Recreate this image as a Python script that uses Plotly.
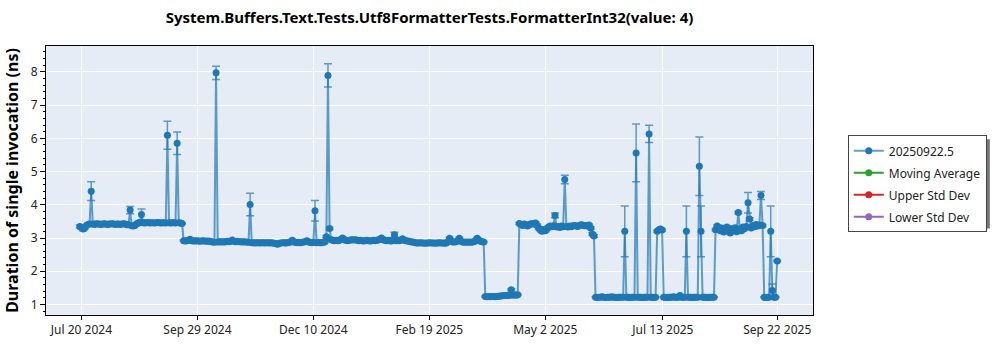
import pandas as pd
import plotly.graph_objects as go

# Daily benchmark results, one run per day starting 2024-07-19
first_day = "2024-07-19"

duration_ns = [
    # 2024-07-19 .. 2024-09-20
    3.35, 3.32, 3.27, 3.30, 3.38, 3.41, 3.42, 4.41,
    3.42, 3.41, 3.43, 3.42, 3.42, 3.41, 3.42, 3.43, 3.42, 3.41, 3.42, 3.42,
    3.43, 3.42, 3.41, 3.42, 3.42, 3.41, 3.42, 3.43, 3.42, 3.40,
    3.40, 3.84, 3.37, 3.36, 3.38, 3.43, 3.45, 3.46, 3.71,
    3.46, 3.45, 3.46, 3.47, 3.45, 3.46, 3.46, 3.45, 3.46, 3.47, 3.46, 3.45, 3.46, 3.46, 3.45,
    6.09, 3.46, 3.45, 3.46, 3.46, 3.45, 5.85, 3.46, 3.45, 3.44,
    # 2024-09-21 .. 2024-12-18
    2.92, 2.91, 2.92, 2.93, 2.96,
    2.92, 2.91, 2.91, 2.92, 2.91, 2.90, 2.91, 2.92, 2.91, 2.90, 2.91, 2.90, 2.89, 2.88, 2.87,
    7.97, 2.88, 2.89, 2.88, 2.89, 2.88, 2.89, 2.90, 2.89, 2.90, 2.94,
    2.90, 2.89, 2.90, 2.89, 2.89, 2.88, 2.89, 2.88, 2.88, 2.87, 4.01,
    2.86, 2.86, 2.85, 2.86, 2.86, 2.85, 2.86, 2.86, 2.85, 2.86, 2.86, 2.85, 2.86, 2.85, 2.84, 2.83,
    2.81, 2.84, 2.85, 2.86, 2.86, 2.85, 2.86, 2.87, 2.88, 2.93,
    2.88, 2.87, 2.86, 2.87, 2.86, 2.87, 2.88, 2.89, 2.92,
    2.88, 2.87, 2.86, 2.87, 3.82, 2.86, 2.87, 2.86, 2.86, 2.87, 2.88, 3.04,
    # 2024-12-19 .. 2025-03-25
    7.89, 3.29, 2.95, 2.93, 2.92, 2.93, 2.92, 2.93, 2.95, 3.00,
    2.95, 2.93, 2.92, 2.93, 2.94, 2.95, 2.94, 2.95, 2.93, 2.92, 2.93, 2.92,
    2.91, 2.92, 2.93, 2.92, 2.91, 2.92, 2.93, 2.92, 2.93, 2.94, 2.96, 3.00,
    2.95, 2.93, 2.92, 2.93, 2.92, 2.91, 2.93, 3.10, 2.92, 2.93, 2.92, 2.94, 2.98,
    2.93, 2.92, 2.91, 2.90, 2.89, 2.88, 2.87, 2.86,
    2.85, 2.85, 2.86, 2.85, 2.85, 2.84, 2.85, 2.85, 2.86, 2.85,
    2.85, 2.84, 2.85, 2.85, 2.86, 2.85, 2.85, 2.84, 2.85,
    2.89, 2.99, 2.90, 2.88, 2.88, 2.89, 2.92, 2.99,
    2.90, 2.88, 2.87, 2.88, 2.87, 2.88, 2.87, 2.88, 2.89, 2.92, 2.99, 2.93, 2.90, 2.89, 2.88,
    # 2025-03-26 .. 2025-04-15
    1.24, 1.23, 1.24, 1.23, 1.24, 1.24, 1.23, 1.24, 1.25, 1.25, 1.26,
    1.26, 1.27, 1.27, 1.27, 1.28, 1.44, 1.28, 1.29, 1.28, 1.29,
    # 2025-04-16 .. 2025-06-01
    3.44, 3.41, 3.38, 3.42, 3.40, 3.36, 3.40, 3.43, 3.42, 3.44, 3.45,
    3.38, 3.30, 3.24, 3.20, 3.26, 3.22, 3.28, 3.33, 3.36, 3.34, 3.37, 3.68,
    3.33, 3.35, 3.32, 3.36, 3.34, 4.76,
    3.35, 3.33, 3.36, 3.34, 3.37, 3.38, 3.36, 3.35, 3.38, 3.40, 3.39, 3.37, 3.38, 3.36, 3.39,
    3.30, 3.12, 3.06,
    # 2025-06-02 .. 2025-07-09
    1.22, 1.21, 1.22, 1.22, 1.23, 1.22, 1.21, 1.22, 1.22, 1.22, 1.23, 1.22, 1.22, 1.21, 1.22, 1.22, 1.22, 1.22,
    3.20, 1.22, 1.22, 1.21, 1.22, 1.22, 1.22, 5.56, 1.22, 1.22, 1.22, 1.21, 1.22, 1.22, 1.22,
    6.13, 1.22, 1.22, 1.21, 1.22,
    # 2025-07-10 .. 2025-07-13
    3.20, 3.25, 3.27, 3.24,
    # 2025-07-14 .. 2025-08-14
    1.22, 1.22, 1.21, 1.22, 1.22, 1.22, 1.23, 1.22, 1.22, 1.22, 1.27, 1.22, 1.22, 1.22,
    3.20, 1.22, 1.22, 1.22, 1.21, 1.22, 1.22, 1.22, 5.16, 3.20,
    1.22, 1.22, 1.22, 1.21, 1.22, 1.22, 1.22, 1.22,
    # 2025-08-15 .. 2025-09-13
    3.25, 3.36, 3.28, 3.22, 3.30, 3.18, 3.26, 3.33, 3.21, 3.15, 3.28, 3.24, 3.31, 3.19,
    3.77, 3.27, 3.22, 3.33, 3.29, 3.35, 4.06, 3.57,
    3.30, 3.38, 3.34, 3.41, 3.36, 3.39, 4.28, 3.38,
    # 2025-09-14 .. 2025-09-22
    1.22, 1.21, 1.22, 1.22, 3.20, 1.42, 1.22, 1.22, 2.31,
]

stddev_ns = [
    0.04, 0.03, 0.05, 0.03, 0.02, 0.02, 0.02, 0.28,
    0.02, 0.02, 0.02, 0.02, 0.02, 0.02, 0.02, 0.02, 0.02, 0.02, 0.02, 0.02,
    0.02, 0.02, 0.02, 0.02, 0.02, 0.02, 0.02, 0.02, 0.02, 0.02,
    0.02, 0.11, 0.03, 0.02, 0.02, 0.02, 0.02, 0.02, 0.16,
    0.02, 0.02, 0.02, 0.02, 0.02, 0.02, 0.02, 0.02, 0.02, 0.02, 0.02, 0.02, 0.02, 0.02, 0.02,
    0.42, 0.02, 0.02, 0.02, 0.02, 0.02, 0.34, 0.02, 0.02, 0.02,
    0.02, 0.02, 0.02, 0.02, 0.03,
    0.02, 0.02, 0.02, 0.02, 0.02, 0.02, 0.02, 0.02, 0.02, 0.02, 0.02, 0.02, 0.02, 0.02, 0.02,
    0.20, 0.02, 0.02, 0.02, 0.02, 0.02, 0.02, 0.02, 0.02, 0.02, 0.03,
    0.02, 0.02, 0.02, 0.02, 0.02, 0.02, 0.02, 0.02, 0.02, 0.02, 0.34,
    0.02, 0.02, 0.02, 0.02, 0.02, 0.02, 0.02, 0.02, 0.02, 0.02, 0.02, 0.02, 0.02, 0.02, 0.02, 0.02,
    0.02, 0.02, 0.02, 0.02, 0.02, 0.02, 0.02, 0.02, 0.02, 0.03,
    0.02, 0.02, 0.02, 0.02, 0.02, 0.02, 0.02, 0.02, 0.03,
    0.02, 0.02, 0.02, 0.02, 0.31, 0.02, 0.02, 0.02, 0.02, 0.02, 0.02, 0.03,
    0.35, 0.03, 0.02, 0.02, 0.02, 0.02, 0.02, 0.02, 0.02, 0.03,
    0.02, 0.02, 0.02, 0.02, 0.02, 0.02, 0.02, 0.02, 0.02, 0.02, 0.02, 0.02,
    0.02, 0.02, 0.02, 0.02, 0.02, 0.02, 0.02, 0.02, 0.02, 0.02, 0.02, 0.03,
    0.02, 0.02, 0.02, 0.02, 0.02, 0.02, 0.02, 0.07, 0.02, 0.02, 0.02, 0.02, 0.03,
    0.02, 0.02, 0.02, 0.02, 0.02, 0.02, 0.02, 0.02,
    0.02, 0.02, 0.02, 0.02, 0.02, 0.02, 0.02, 0.02, 0.02, 0.02,
    0.02, 0.02, 0.02, 0.02, 0.02, 0.02, 0.02, 0.02, 0.02,
    0.02, 0.03, 0.02, 0.02, 0.02, 0.02, 0.02, 0.03,
    0.02, 0.02, 0.02, 0.02, 0.02, 0.02, 0.02, 0.02, 0.02, 0.02, 0.03, 0.02, 0.02, 0.02, 0.02,
    0.02, 0.02, 0.02, 0.02, 0.02, 0.02, 0.02, 0.02, 0.02, 0.02, 0.02,
    0.02, 0.02, 0.02, 0.02, 0.02, 0.03, 0.02, 0.02, 0.02, 0.02,
    0.03, 0.03, 0.04, 0.03, 0.03, 0.04, 0.03, 0.03, 0.03, 0.03, 0.03,
    0.04, 0.04, 0.03, 0.04, 0.03, 0.04, 0.03, 0.03, 0.03, 0.03, 0.03, 0.07,
    0.03, 0.03, 0.03, 0.03, 0.03, 0.13,
    0.03, 0.03, 0.03, 0.03, 0.03, 0.03, 0.03, 0.03, 0.03, 0.03, 0.03, 0.03, 0.03, 0.03, 0.03,
    0.03, 0.04, 0.04,
    0.01, 0.01, 0.01, 0.01, 0.01, 0.01, 0.01, 0.01, 0.01, 0.01, 0.01, 0.01, 0.01, 0.01, 0.01, 0.01, 0.01, 0.01,
    0.76, 0.01, 0.01, 0.01, 0.01, 0.01, 0.01, 0.87, 0.01, 0.01, 0.01, 0.01, 0.01, 0.01, 0.01,
    0.26, 0.01, 0.01, 0.01, 0.01,
    0.03, 0.03, 0.03, 0.03,
    0.01, 0.01, 0.01, 0.01, 0.01, 0.01, 0.01, 0.01, 0.01, 0.01, 0.02, 0.01, 0.01, 0.01,
    0.76, 0.01, 0.01, 0.01, 0.01, 0.01, 0.01, 0.01, 0.88, 0.76,
    0.01, 0.01, 0.01, 0.01, 0.01, 0.01, 0.01, 0.01,
    0.03, 0.03, 0.03, 0.03, 0.03, 0.03, 0.03, 0.03, 0.03, 0.03, 0.03, 0.03, 0.03, 0.03,
    0.03, 0.03, 0.03, 0.03, 0.03, 0.03, 0.31, 0.04,
    0.03, 0.03, 0.03, 0.03, 0.03, 0.03, 0.12, 0.03,
    0.01, 0.01, 0.01, 0.01, 0.76, 0.20, 0.01, 0.01, 0.02,
]

assert len(duration_ns) == len(stddev_ns), (len(duration_ns), len(stddev_ns))

run_dates = pd.date_range(first_day, periods=len(duration_ns), freq="D")

tick_dates = ["2024-07-20", "2024-09-29 12:00", "2024-12-10", "2025-02-19 12:00",
              "2025-05-02", "2025-07-13 12:00", "2025-09-22"]
tick_labels = ["Jul 20 2024", "Sep 29 2024", "Dec 10 2024", "Feb 19 2025",
               "May 2 2025", "Jul 13 2025", "Sep 22 2025"]

series_name = "20250922.5"
overlay_names = ["Moving Average", "Upper Std Dev", "Lower Std Dev"]
overlay_colors = ["rgb(44,160,44)", "rgb(214,39,40)", "rgb(148,103,189)"]
blue = "rgb(31,119,180)"
blue_soft = "rgba(31,119,180,0.7)"

font_family = "Noto Sans, Open Sans, sans-serif"

# Plot area in pixels (for placing the legend frame and its shadow)
PLOT_L, PLOT_R, PLOT_T, PLOT_B = 41, 813, 46, 320


def px_to_paper(px, py):
    return (px - PLOT_L) / (PLOT_R - PLOT_L), (PLOT_B - py) / (PLOT_B - PLOT_T)


fig = go.Figure()
fig.add_trace(go.Scatter(
    x=run_dates, y=duration_ns, name=series_name, mode="lines+markers",
    legendgroup="g0",
    line=dict(color=blue_soft, width=2),
    marker=dict(color=blue, size=7),
    error_y=dict(type="data", array=stddev_ns, visible=True,
                 color=blue_soft, thickness=1.5, width=4),
))
for k, (name, color) in enumerate(zip(overlay_names, overlay_colors), start=1):
    fig.add_trace(go.Scatter(x=[None], y=[None], name=name, mode="lines+markers",
                             legendgroup=f"g{k}",
                             line=dict(color=color, width=2), marker=dict(color=color, size=7)))

# Drop shadow behind the legend frame
sx0, sy0 = px_to_paper(852, 141)
sx1, sy1 = px_to_paper(991, 232)
fig.add_shape(type="rect", xref="paper", yref="paper", x0=sx0, x1=sx1, y0=sy1, y1=sy0,
              fillcolor="#777777", line=dict(width=0), layer="above")

lx, ly = px_to_paper(848, 137)
fig.update_layout(
    width=1000, height=350,
    margin=dict(l=PLOT_L, r=1000 - PLOT_R, t=PLOT_T, b=350 - PLOT_B),
    paper_bgcolor="white", plot_bgcolor="#E5ECF6",
    font=dict(family=font_family, size=12, color="#222"),
    title=dict(text="<b>System.Buffers.Text.Tests.Utf8FormatterTests.FormatterInt32(value: 4)</b>",
               x=0.5, xref="paper", xanchor="center", y=1 - 18 / 350, yanchor="middle",
               font=dict(size=15, color="black")),
    showlegend=True,
    legend=dict(x=lx, y=ly, xanchor="left", yanchor="top",
                bgcolor="white", bordercolor="#444", borderwidth=1,
                tracegroupgap=3, font=dict(size=12, color="#222")),
)
fig.update_xaxes(
    type="date", range=["2024-06-28 03:20", "2025-10-14 01:40"],
    tickvals=tick_dates, ticktext=tick_labels,
    showgrid=True, gridcolor="white", gridwidth=1,
    showline=True, linecolor="black", linewidth=1, mirror=True,
    ticks="outside", ticklen=4, tickcolor="black", zeroline=False,
)
fig.update_yaxes(
    range=[0.684, 8.777], tickvals=[1, 2, 3, 4, 5, 6, 7, 8],
    showgrid=True, gridcolor="white", gridwidth=1,
    showline=True, linecolor="black", linewidth=1, mirror=True,
    ticks="outside", ticklen=5, tickcolor="black", zeroline=False,
    minor=dict(dtick=0.2, ticks="outside", ticklen=2, tickcolor="black", showgrid=False),
    title=dict(text="<b>Duration of single invocation (ns)</b>", font=dict(size=16, color="black"),
               standoff=8),
)

fig.write_html("out.html")
